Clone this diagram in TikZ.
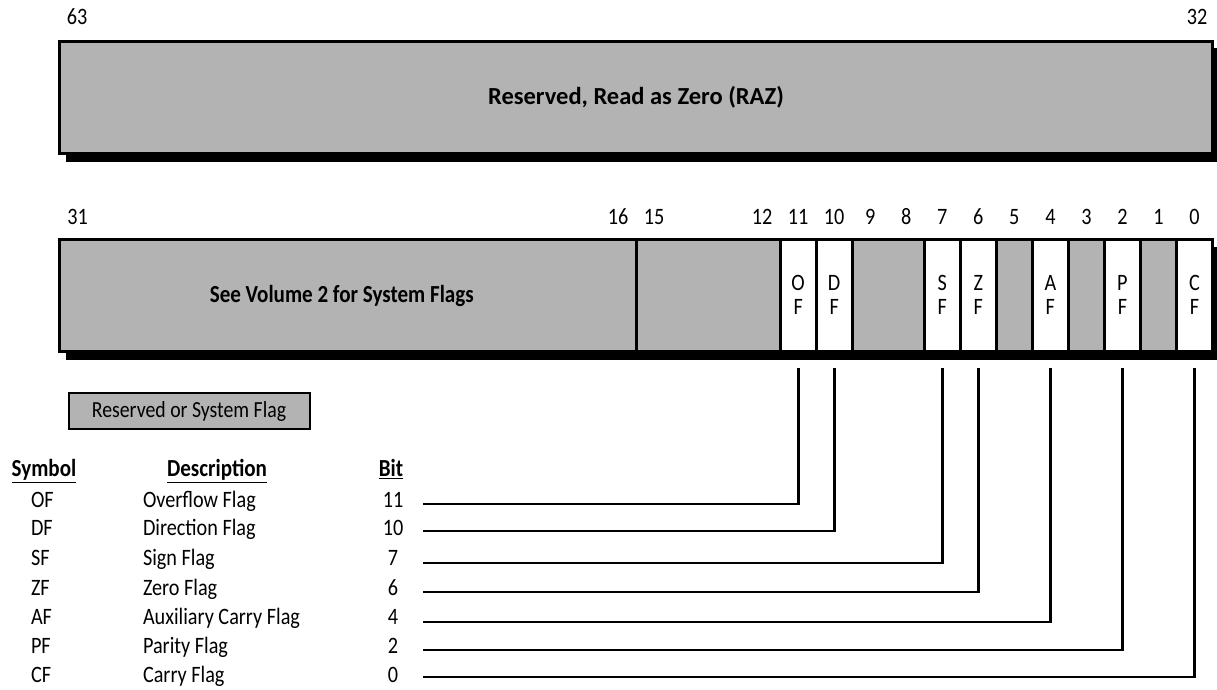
\documentclass[tikz,border=0pt]{standalone}
\usepackage{fontspec}
\setmainfont{Carlito}[FakeStretch=0.86]
\newfontfamily\razfont{Carlito}
\usetikzlibrary{calc}
\definecolor{regray}{RGB}{179,179,179}
\newcommand\regL{}
\newcommand\regW{}
\newcommand\regfield[5]{%
  \pgfmathsetmacro\regL{1212.5-36.03*(#2+1)}%
  \pgfmathsetmacro\regW{36.03*(#2-#3+1)}%
  \node[field,#4,minimum width=\regW pt,anchor=north west] (#1) at (\regL,239.5) {#5};}
\newcommand\bitlabel[2]{%
  \pgfmathsetmacro\regL{1212.5-36.03*(#1+0.5)}%
  \node[txt] (bl#1) at (\regL,#2) {#1};}
\begin{document}
\begin{tikzpicture}[x=1pt,y=-1pt,
  txt/.style={inner sep=0pt,outer sep=0pt,text height=15pt,text depth=0pt,font=\fontsize{23.5}{26}\selectfont},
  bold/.style={txt,font=\fontsize{24.5}{27}\selectfont\bfseries},
  field/.style={draw,line width=3pt,inner sep=0pt,outer sep=0pt,minimum height=111.5pt,
     align=center,font=\fontsize{23.5}{24}\selectfont},
  res/.style={fill=regray},
  flg/.style={fill=white},
  conn/.style={draw,line width=2.7pt,line join=miter,line cap=butt},
  shadowfill/.style={fill=black}
]
\useasboundingbox (0,0) rectangle (1217,690);

% upper register
\fill[shadowfill] (66,48) rectangle (1222,162);
\node[field,res,minimum width=1153pt,anchor=north west] (raz) at (59.5,41.5) {};
\node[txt,font=\razfont\fontsize{24.5}{27}\selectfont\bfseries] (raztext) at (raz.center) {Reserved, Read as Zero (RAZ)};
\node[txt] (l63) at (77,17.5) {63};
\node[txt] (l32) at (1197,17.5) {32};

% lower register
\fill[shadowfill] (66,247) rectangle (1222,360);
\regfield{sys}{31}{16}{res}{}
\regfield{r1512}{15}{12}{res}{}
\regfield{of}{11}{11}{flg}{O\\F}
\regfield{df}{10}{10}{flg}{D\\F}
\regfield{r98}{9}{8}{res}{}
\regfield{sf}{7}{7}{flg}{S\\F}
\regfield{zf}{6}{6}{flg}{Z\\F}
\regfield{r5}{5}{5}{res}{}
\regfield{af}{4}{4}{flg}{A\\F}
\regfield{r3}{3}{3}{res}{}
\regfield{pf}{2}{2}{flg}{P\\F}
\regfield{r1}{1}{1}{res}{}
\regfield{cf}{0}{0}{flg}{C\\F}
\node[bold] (systext) at ($(sys.center)+(-6,0)$) {See Volume 2 for System Flags};

\foreach \b in {31,16,15,12,11,10,9,8,7,6,5,4,3,2,1,0}{\bitlabel{\b}{217}}

% legend
\node[draw,fill=regray,line width=2pt,minimum width=241pt,minimum height=36pt,inner sep=0pt,
  font=\fontsize{23}{26}\selectfont] (legend) at (189,411) {Reserved or System Flag};

% table header
\node[bold] (hsym) at (44,469) {\underline{Symbol}};
\node[bold] (hdesc) at (217,469) {\underline{Description}};
\node[bold] (hbit) at (391,469) {\underline{Bit}};

% rows
\foreach \s/\d/\b/\y/\n in {OF/Overflow Flag/11/500/of, DF/Direction Flag/10/528/df,
   SF/Sign Flag/7/558/sf, ZF/Zero Flag/6/588/zf, AF/Auxiliary Carry Flag/4/617/af,
   PF/Parity Flag/2/646/pf, CF/Carry Flag/0/675/cf}{
  \node[txt,anchor=west] (s\n) at (31,\y) {\s};
  \node[txt,anchor=west] (d\n) at (143,\y) {\d};
  \node[txt] (b\n) at (393,\y) {\b};
}

% connectors
\foreach \n/\y in {of/504, df/531, sf/563, zf/592, af/622, pf/650, cf/677}{
  \coordinate (c\n) at (423,\y);
  \draw[conn] (c\n) -| ($(\n.south)+(0,17)$);
}
\end{tikzpicture}
\end{document}
